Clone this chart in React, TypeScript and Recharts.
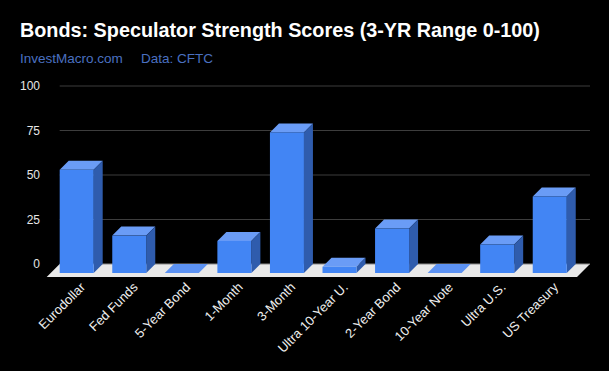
import React from "react";
import { Bar, BarChart, CartesianGrid, XAxis, YAxis } from "recharts";

// Speculator strength scores
const CATEGORIES = [
  "Eurodollar",
  "Fed Funds",
  "5-Year Bond",
  "1-Month",
  "3-Month",
  "Ultra 10-Year U.",
  "2-Year Bond",
  "10-Year Note",
  "Ultra U.S.",
  "US Treasury",
];
const SCORES = [58, 21, 0, 18, 79, 3.5, 25, 0, 16, 43];
const Y_TICKS = [0, 25, 50, 75, 100];

const FONT = '"Liberation Sans", Arial, sans-serif';
const DEPTH = 9; // bar depth in px
const FLOOR_DEPTH = 13;

const data = CATEGORIES.map((name, i) => ({ name, score: SCORES[i] }));

function Bar3D(props: any) {
  const { x, y, width, height } = props;
  if (x == null || y == null) return null;
  const h = Math.max(0, height || 0);
  const fx = x - DEPTH;
  const fy = y + DEPTH;
  return (
    <g>
      <polygon
        points={`${fx},${fy} ${x},${y} ${x + width},${y} ${fx + width},${fy}`}
        fill={h > 0 ? "#6a9cf6" : "#5c92f3"}
      />
      {h > 0 && (
        <>
          <polygon
            points={`${fx + width},${fy} ${x + width},${y} ${x + width},${y + h} ${fx + width},${fy + h}`}
            fill="#2f5cad"
          />
          <rect x={fx} y={fy} width={width} height={h} fill="#4285f4" />
        </>
      )}
    </g>
  );
}

// grid line renderer: the bottom (zero) line also gets the 3D floor under it
function GridLine(props: any) {
  const { x1, x2, y1, y2, index } = props;
  const line = <line x1={x1} y1={y1} x2={x2} y2={y2} stroke="#3d3d3d" strokeWidth={1} />;
  if (index !== 0 && y1 < 250) return <g key={props.key}>{line}</g>;
  const d = FLOOR_DEPTH;
  return (
    <g key={props.key}>
      <polygon
        points={`${x1},${y1} ${x2},${y1} ${x2 - d},${y1 + d} ${x1 - d},${y1 + d}`}
        fill="#e9e9e9"
      />
      <line x1={x1} y1={y1} x2={x2} y2={y1} stroke="#8a8a8a" strokeWidth={1} />
    </g>
  );
}

function XTick(props: any) {
  const { x, y, payload } = props;
  const tx = x;
  const ty = y + 16;
  return (
    <text
      x={tx}
      y={ty}
      transform={`rotate(-45 ${tx} ${ty})`}
      textAnchor="end"
      fill="#eeeeee"
      fontSize={13}
      fontFamily={FONT}
    >
      {payload.value}
    </text>
  );
}

function YTick(props: any) {
  const { y, payload } = props;
  return (
    <text x={40} y={y + 4} textAnchor="end" fill="#e6e6e6" fontSize={12} fontFamily={FONT}>
      {payload.value}
    </text>
  );
}

export default function App() {
  return (
    <div
      style={{
        position: "absolute",
        left: 0,
        top: 0,
        width: 609,
        height: 371,
        background: "#000",
      }}
    >
      <svg width={609} height={70} style={{ position: "absolute", left: 0, top: 0 }}>
        <text x={20} y={37} fill="#ffffff" fontSize={19.8} fontWeight="bold" fontFamily={FONT}>
          Bonds: Speculator Strength Scores (3-YR Range 0-100)
        </text>
        <text x={20} y={63} fill="#4a70c0" fontSize={13.5} fontFamily={FONT}>
          InvestMacro.com
        </text>
        <text x={141} y={63} fill="#4a70c0" fontSize={13.5} fontFamily={FONT}>
          Data: CFTC
        </text>
      </svg>
      <div style={{ position: "absolute", left: 0, top: 0 }}>
        <BarChart
          width={609}
          height={371}
          data={data}
          margin={{ top: 86, right: 19, bottom: 47, left: 9.7 }}
          barSize={34}
        >
          <CartesianGrid vertical={false} horizontal={(p: any) => <GridLine {...p} />} />
          <XAxis
            dataKey="name"
            interval={0}
            height={60}
            axisLine={false}
            tickLine={false}
            padding={{ left: 0, right: 4.7 }}
            tick={<XTick />}
          />
          <YAxis
            width={50}
            domain={[0, 100]}
            ticks={Y_TICKS}
            axisLine={false}
            tickLine={false}
            tick={<YTick />}
          />
          <Bar dataKey="score" shape={<Bar3D />} isAnimationActive={false} />
        </BarChart>
      </div>
    </div>
  );
}
